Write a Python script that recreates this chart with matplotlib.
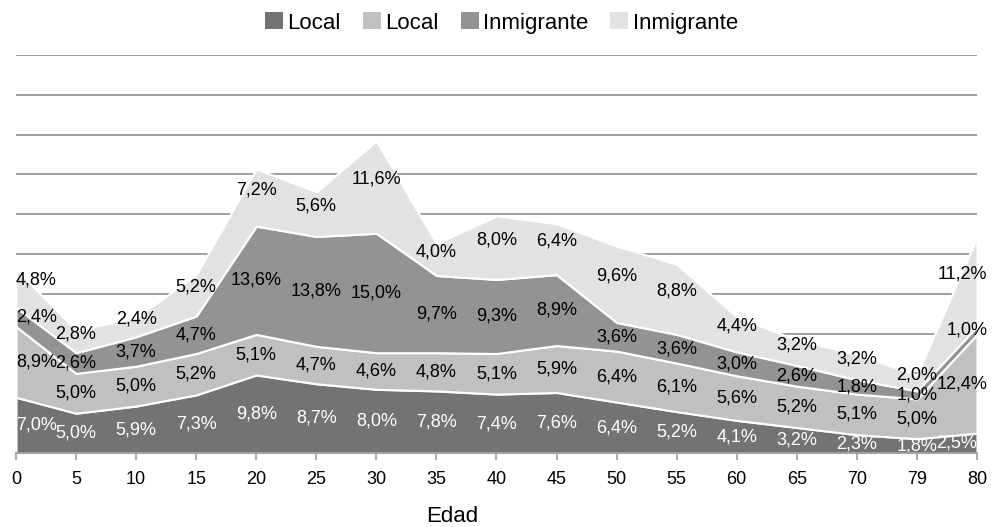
import matplotlib
matplotlib.use("Agg")
import matplotlib.pyplot as plt
import numpy as np
from matplotlib.patches import Patch

plt.rcParams['font.family'] = ['Liberation Sans', 'DejaVu Sans']

edades = ['0', '5', '10', '15', '20', '25', '30', '35', '40', '45', '50',
          '55', '60', '65', '70', '79', '80']
local_1 = [7.0, 5.0, 5.9, 7.3, 9.8, 8.7, 8.0, 7.8, 7.4, 7.6, 6.4, 5.2, 4.1, 3.2, 2.3, 1.8, 2.5]
local_2 = [8.9, 5.0, 5.0, 5.2, 5.1, 4.7, 4.6, 4.8, 5.1, 5.9, 6.4, 6.1, 5.6, 5.2, 5.1, 5.0, 12.4]
inmig_1 = [2.4, 2.6, 3.7, 4.7, 13.6, 13.8, 15.0, 9.7, 9.3, 8.9, 3.6, 3.6, 3.0, 2.6, 1.8, 1.0, 1.0]
inmig_2 = [4.8, 2.8, 2.4, 5.2, 7.2, 5.6, 11.6, 4.0, 8.0, 6.4, 9.6, 8.8, 4.4, 3.2, 3.2, 2.0, 11.2]

nombres = ['Local', 'Local', 'Inmigrante', 'Inmigrante']
colores = ['#737373', '#c0c0c0', '#939393', '#e2e2e2']
col_txt = ['white', 'black', 'black', 'black']
# los rotulos de la capa superior van un poco mas arriba
subir = [0, 0, 0, 1.0]
# desplazamiento del ultimo rotulo (el blanco queda dentro del area)
correr = [0, 0.17, 0.17, 0.17]

fig = plt.figure(figsize=(9.99, 5.27), dpi=100)
ax = fig.add_axes([16 / 999, (527 - 453) / 527, (977 - 16) / 999, (453 - 55) / 527])

x = np.arange(len(edades))
series = [local_1, local_2, inmig_1, inmig_2]

for g in range(5, 51, 5):
    ax.axhline(g, color='#a0a0a0', lw=1.4, zorder=0)

ax.stackplot(x, *series, colors=colores, edgecolor='white', linewidth=1.5, zorder=2)

base = np.zeros(len(x))
for s, c, dy, dx in zip(series, col_txt, subir, correr):
    s = np.array(s)
    mid = base + s / 2 + dy
    for i in range(len(x)):
        ha = 'center'
        xi = x[i]
        if i == 0:
            ha = 'left'
        elif i == len(x) - 1:
            ha = 'right'
            xi = x[i] + dx
        ax.text(xi, mid[i], f"{s[i]:.1f}%".replace('.', ','), ha=ha, va='center',
                color=c, fontsize=13, zorder=3, clip_on=False)
    base = base + s

ax.set_xlim(0, len(x) - 1)
ax.set_ylim(0, 50)
ax.set_xticks(x)
ax.set_xticklabels(edades, fontsize=13)
ax.set_yticks([])
for sp in ['top', 'right', 'left']:
    ax.spines[sp].set_visible(False)
ax.spines['bottom'].set_color('#a0a0a0')
ax.spines['bottom'].set_linewidth(1.4)
ax.spines['bottom'].set_zorder(4)
ax.tick_params(axis='x', length=5, width=1.2, color='#a0a0a0', pad=8)

fig.text(452 / 999, 1 - 517 / 527, 'Edad', ha='center', va='center', fontsize=16)

handles = [Patch(facecolor=c, edgecolor='none') for c in colores]
fig.legend(handles, nombres, loc='center', bbox_to_anchor=(0.502, 1 - 23 / 527), ncol=4,
           frameon=False, fontsize=16, handlelength=0.8, handleheight=0.8,
           handletextpad=0.2, columnspacing=1.0)

fig.savefig('out.png', dpi=100)
